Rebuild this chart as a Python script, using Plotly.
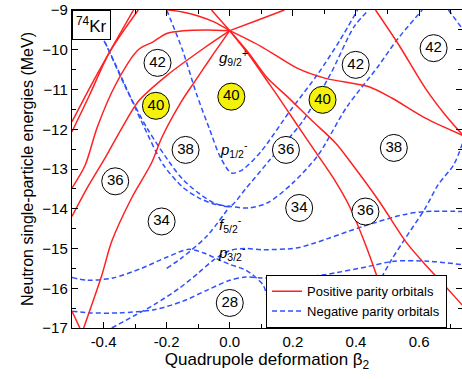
import plotly.graph_objects as go

# ---------------- data (beta2, energy MeV) ----------------
# Positive parity orbitals (red, solid)
pos_G_b = [0.0, 0.09, 0.173]
pos_G_e = [-9.52, -9.25, -9.0]
pos_H_b = [0.0, 0.1, 0.215, 0.304, 0.441, 0.515, 0.62, 0.74]
pos_H_e = [-9.52, -9.92, -10.47, -10.72, -10.93, -11.22, -11.72, -12.16]
pos_I_b = [0.462, 0.536, 0.62, 0.683, 0.74]
pos_I_e = [-9.0, -9.88, -10.97, -11.64, -12.16]
pos_J_b = [0.0, 0.06, 0.12, 0.15, 0.21, 0.27, 0.33, 0.38, 0.43, 0.475, 0.52]
pos_J_e = [-9.52, -10.12, -10.8, -11.14, -11.85, -12.55, -13.25, -13.95, -14.9, -15.9, -17.0]
pos_K_b = [0.0, 0.06, 0.12, 0.18, 0.26, 0.336, 0.385, 0.475, 0.557, 0.62, 0.683, 0.74]
pos_K_e = [-9.52, -10.08, -10.72, -11.16, -11.78, -12.35, -12.85, -13.83, -14.82, -15.41, -15.95, -16.45]
pos_U1_b = [0.0, -0.03, -0.058]
pos_U1_e = [-9.52, -9.25, -9.0]
pos_U2_b = [0.0, -0.05, -0.1, -0.15, -0.195]
pos_U2_e = [-9.52, -9.3, -9.15, -9.05, -9.0]
pos_D_b = [0.0, -0.074, -0.147, -0.2, -0.243, -0.29, -0.362, -0.42, -0.458, -0.5]
pos_D_e = [-9.52, -9.5, -9.52, -9.59, -9.8, -10.0, -10.88, -11.95, -12.9, -13.48]
pos_E_b = [0.0, -0.08, -0.2, -0.29, -0.342, -0.395, -0.45, -0.5]
pos_E_e = [-9.52, -9.95, -10.65, -11.3, -11.97, -12.72, -13.45, -14.19]
pos_F_b = [0.0, -0.06, -0.111, -0.153, -0.216, -0.248, -0.311, -0.374, -0.405, -0.437, -0.463]
pos_F_e = [-9.52, -10.2, -10.8, -11.3, -12.22, -12.85, -13.73, -14.82, -15.66, -16.41, -17.0]
pos_A_b = [-0.305, -0.37, -0.44, -0.5]
pos_A_e = [-9.0, -9.9, -10.9, -11.81]
pos_B_b = [-0.29, -0.38, -0.445, -0.5]
pos_B_e = [-9.0, -10.05, -11.15, -12.06]
pos_L_b = [-0.5, -0.475]
pos_L_e = [-16.58, -17.0]

# Negative parity orbitals (blue, dashed)
neg_P1_b = [-0.2, -0.15, -0.106, -0.064, -0.03, 0.005, 0.04, 0.1, 0.19, 0.28, 0.35, 0.405]
neg_P1_e = [-9.0, -10.0, -11.1, -12.0, -12.7, -13.1, -13.02, -12.55, -11.55, -10.6, -9.75, -9.0]
neg_F1_b = [-0.46, -0.4, -0.34, -0.28, -0.21, -0.15, -0.1, -0.05, 0.0, 0.06, 0.12, 0.2, 0.28, 0.37, 0.47, 0.53, 0.61]
neg_F1_e = [-8.9, -9.75, -10.75, -11.8, -12.9, -13.45, -13.72, -13.88, -13.94, -13.98, -13.85, -13.35, -12.65, -11.45, -10.42, -9.75, -9.0]
neg_F2_b = [-0.45, -0.39, -0.33, -0.26, -0.185, -0.15, -0.1, -0.05, 0.0, 0.05, 0.126, 0.231, 0.32, 0.394, 0.44]
neg_F2_e = [-8.9, -9.9, -10.95, -12.0, -12.9, -13.25, -13.6, -13.85, -13.94, -13.5, -12.78, -11.8, -10.6, -9.42, -9.0]
neg_F3_b = [-0.2, -0.153, -0.074, 0.0]
neg_F3_e = [-15.5, -15.24, -14.7, -13.94]
neg_b1_b = [-0.5, -0.45, -0.37, -0.28, -0.2, -0.13, -0.08, -0.03, 0.0, 0.052, 0.105, 0.12, 0.16]
neg_b1_e = [-15.73, -15.8, -15.74, -15.5, -15.22, -15.02, -15.12, -15.3, -15.4, -15.55, -15.91, -16.24, -17.0]
neg_b2_b = [-0.5, -0.44, -0.35, -0.24, -0.15, -0.07, 0.0, 0.05, 0.1, 0.2, 0.3, 0.44, 0.52, 0.63, 0.74]
neg_b2_e = [-16.58, -16.62, -16.62, -16.54, -16.33, -16.04, -15.8, -15.72, -15.74, -15.74, -15.66, -15.45, -15.32, -15.32, -15.41]
neg_b3_b = [-0.374, -0.3, -0.237, -0.16, -0.1, -0.05, 0.0, 0.05, 0.105, 0.21, 0.27, 0.42, 0.55, 0.62, 0.74]
neg_b3_e = [-17.0, -16.68, -16.4, -16.0, -15.62, -15.28, -15.05, -15.0, -15.03, -14.99, -14.86, -14.45, -14.15, -14.07, -14.07]
neg_S_b = [0.4, 0.44, 0.47, 0.51, 0.55, 0.62, 0.66, 0.71, 0.74]
neg_S_e = [-17.2, -16.6, -15.91, -15.32, -14.82, -13.98, -13.4, -12.89, -12.3]
neg_T_b = [0.693, 0.74]
neg_T_e = [-9.0, -9.5]

# Shell-gap numbers (circled); highlighted = yellow
gap_b = [-0.229, -0.234, -0.14, -0.363, -0.216, 0.005, 0.178, 0.22, 0.399, 0.646, 0.294, 0.52, 0.43, 0.0]
gap_e = [-10.33, -11.41, -12.52, -13.31, -14.32, -11.18, -12.52, -13.98, -10.38, -9.96, -11.26, -12.47, -14.07, -16.37]
gap_n = ["42", "40", "38", "36", "34", "40", "36", "34", "42", "42", "40", "38", "36", "28"]
gap_hl = [False, True, False, False, False, True, False, False, False, False, True, False, False, False]

# Orbital labels
orb_b = [-0.04, -0.038, -0.04, -0.045]
orb_e = [-10.2, -12.5, -14.4, -15.1]
orb_t = ["<i>g</i><sub>9/2</sub><sup>+</sup>", "<i>p</i><sub>1/2</sub><sup>-</sup>",
         "<i>f</i><sub>5/2</sub><sup>-</sup>", "<i>p</i><sub>3/2</sub><sup>-</sup>"]

RED = "#ff2121"
BLUE = "#3050ff"
FONT = "Arial, Liberation Sans, sans-serif"

fig = go.Figure()

pos = [(pos_G_b, pos_G_e), (pos_H_b, pos_H_e), (pos_I_b, pos_I_e), (pos_J_b, pos_J_e),
       (pos_K_b, pos_K_e), (pos_U1_b, pos_U1_e), (pos_U2_b, pos_U2_e), (pos_D_b, pos_D_e),
       (pos_E_b, pos_E_e), (pos_F_b, pos_F_e), (pos_A_b, pos_A_e), (pos_B_b, pos_B_e),
       (pos_L_b, pos_L_e)]
neg = [(neg_P1_b, neg_P1_e), (neg_F1_b, neg_F1_e), (neg_F2_b, neg_F2_e), (neg_F3_b, neg_F3_e),
       (neg_b1_b, neg_b1_e), (neg_b2_b, neg_b2_e), (neg_b3_b, neg_b3_e), (neg_S_b, neg_S_e),
       (neg_T_b, neg_T_e)]

for b, e in neg:
    fig.add_trace(go.Scatter(x=b, y=e, mode="lines",
                             line=dict(color=BLUE, width=1.5, dash="5px,3px", shape="spline", smoothing=0.8),
                             showlegend=False, hoverinfo="skip"))
for b, e in pos:
    fig.add_trace(go.Scatter(x=b, y=e, mode="lines",
                             line=dict(color=RED, width=1.5, shape="spline", smoothing=0.8),
                             showlegend=False, hoverinfo="skip"))

# circled gap numbers
fig.add_trace(go.Scatter(
    x=gap_b, y=gap_e, mode="markers+text", text=gap_n, textposition="middle center",
    textfont=dict(family=FONT, size=15, color="black"),
    marker=dict(symbol="circle", size=27,
                color=["#f4f20c" if h else "white" for h in gap_hl],
                line=dict(color="black", width=1)),
    showlegend=False, hoverinfo="skip"))

# legend entries
fig.add_trace(go.Scatter(x=[None], y=[None], mode="lines", name="Positive parity orbitals",
                         line=dict(color=RED, width=1.5)))
fig.add_trace(go.Scatter(x=[None], y=[None], mode="lines", name="Negative parity orbitals",
                         line=dict(color=BLUE, width=1.5, dash="5px,3px")))

for b, e, t in zip(orb_b, orb_e, orb_t):
    fig.add_annotation(x=b, y=e, text=t, showarrow=False, xanchor="left",
                       font=dict(family=FONT, size=15, color="black"))

fig.add_annotation(x=0, y=1, xref="paper", yref="paper", xanchor="left", yanchor="top",
                   text="<sup>74</sup>Kr", showarrow=False, bgcolor="white",
                   bordercolor="black", borderwidth=1, borderpad=3,
                   font=dict(family=FONT, size=17, color="black"))

fig.update_layout(
    width=462, height=379,
    margin=dict(l=72, r=0, t=10, b=51),
    paper_bgcolor="white", plot_bgcolor="white",
    font=dict(family=FONT, size=15, color="black"),
    hovermode=False,
    legend=dict(x=0.497, y=0, xanchor="left", yanchor="bottom", bgcolor="white",
                bordercolor="black", borderwidth=1.2, font=dict(family=FONT, size=13),
                tracegroupgap=0, itemwidth=30),
    xaxis=dict(range=[-0.5, 0.736], tickvals=[-0.4, -0.2, 0.0, 0.2, 0.4, 0.6],
               ticktext=["-0.4", "-0.2", "0.0", "0.2", "0.4", "0.6"],
               ticks="inside", ticklen=6, tickcolor="black", showline=True, linecolor="black",
               linewidth=1.2, mirror="allticks", showgrid=False, zeroline=False, automargin=False,
               minor=dict(dtick=0.1, ticks="inside", ticklen=4, tickcolor="black"),
               tickfont=dict(family=FONT, size=15),
               title=dict(text="Quadrupole deformation β<sub>2</sub>", standoff=2,
                          font=dict(family=FONT, size=17))),
    yaxis=dict(range=[-17, -9], tickvals=list(range(-17, -8)),
               ticks="inside", ticklen=6, tickcolor="black", showline=True, linecolor="black",
               linewidth=1.2, mirror="allticks", showgrid=False, zeroline=False, automargin=False,
               minor=dict(dtick=0.5, ticks="inside", ticklen=4, tickcolor="black"),
               tickfont=dict(family=FONT, size=15),
               title=dict(text="Neutron single-particle energies (MeV)", standoff=4,
                          font=dict(family=FONT, size=16))),
)

fig.write_html("out.html", config={"displayModeBar": False, "staticPlot": True},
               post_script="document.body.style.margin='0px';document.body.style.overflow='hidden';")
